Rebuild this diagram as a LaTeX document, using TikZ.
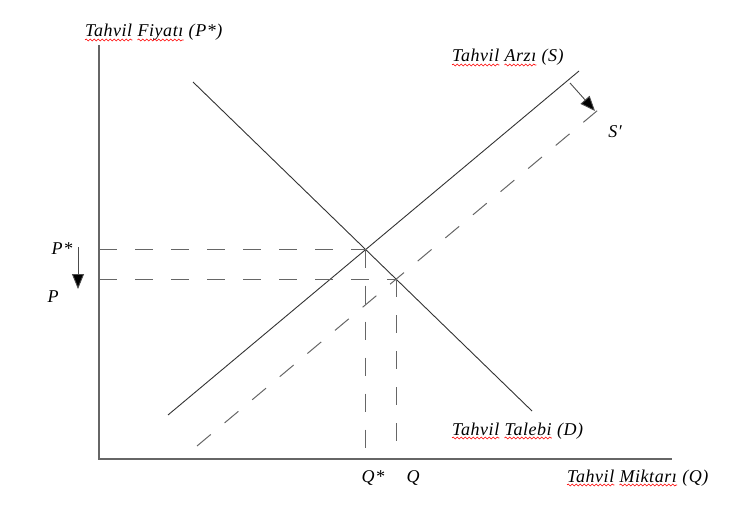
\documentclass[tikz,border=0pt]{standalone}
\usepackage{fontspec}
\setmainfont{Liberation Serif}[LetterSpace=3]
\usetikzlibrary{positioning, calc, intersections, arrows.meta, decorations.pathmorphing}

\begin{document}
\begin{tikzpicture}[
  x=1pt, y=-1pt,
  every node/.style={font=\fontsize{18}{21}\selectfont\itshape, inner sep=0pt},
  axis/.style={draw=black!60, line width=1.4pt},
  curve/.style={draw=black!80, line width=0.9pt},
  guide/.style={draw=black!60, line width=1pt, dash pattern=on 18pt off 18pt},
  shift arrow/.style={draw=black!70, line width=0.9pt,
    -{Triangle[length=15pt, width=12pt, fill=black]}}, % filled tip
  wave/.style={draw=red, line width=0.6pt, decorate,
    decoration={snake, amplitude=1pt, segment length=4pt}}, % spell-check
]
  \useasboundingbox (0,0) rectangle (752,505);

  % axes
  \coordinate (origin) at (99,459);
  \coordinate (ytop) at (99,45);
  \coordinate (xend) at (672,459);
  \draw[axis] (ytop) -- (origin) -- (xend);

  % supply, demand, shifted supply
  \coordinate (s-lo) at (168,415);
  \coordinate (s-hi) at (579,71);
  \coordinate (d-hi) at (193,82);
  \coordinate (d-lo) at (532,411);
  \coordinate (s2-lo) at (197,446);
  \coordinate (s2-hi) at (604,105);
  \draw[curve, name path=supply] (s-lo) -- (s-hi);
  \draw[curve, name path=demand] (d-hi) -- (d-lo);
  \draw[guide, name path=supply2] (s2-lo) -- (s2-hi);
  \path[name intersections={of=supply and demand, by=eq1}];
  \path[name intersections={of=supply2 and demand, by=eq2}];

  %% dashed guides to the axes
  \draw[guide] (eq1 -| origin) -- (eq1);
  \draw[guide] (eq2 -| origin) -- (eq2);
  \draw[guide] (eq1) -- (eq1 |- origin);
  \draw[guide] (eq2) -- (eq2 |- origin);

  % shift arrows
  \coordinate (sa-from) at (570,83);
  \coordinate (sa-to) at (595,111);
  \draw[shift arrow] (sa-from) -- (sa-to);
  \coordinate (pa-from) at (78,247);
  \coordinate (pa-to) at (78,289);
  \draw[shift arrow] (pa-from) -- (pa-to);

  % curve and axis titles, two underlined words each
  \foreach \nm/\pos/\wa/\wb/\tail in {
      ylab/{(85,37)}/Tahvil/Fiyatı/(P*),
      slab/{(452,62)}/Tahvil/Arzı/(S),
      dlab/{(452,435)}/Tahvil/Talebi/(D),
      xlab/{(567,482)}/Tahvil/Miktarı/(Q)} {
    \node[anchor=base west] (\nm-1) at \pos {\wa};
    \node[anchor=base west] (\nm-2) at ($(\nm-1.base east)+(5,0)$) {\wb};
    \node[anchor=base west] (\nm-3) at ($(\nm-2.base east)+(5,0)$) {\tail};
    \draw[wave] ($(\nm-1.base west)+(0,3)$) -- ($(\nm-1.base east)+(0,3)$);
    \draw[wave] ($(\nm-2.base west)+(0,3)$) -- ($(\nm-2.base east)+(0,3)$);
  }
  \node[anchor=base] (s2lab) at (615,138) {S′};
  %% axis values
  \node[anchor=base] (pstar) at (62,254) {P*};
  \node[anchor=base] (plab) at (53,302) {P};
  \node[anchor=base] (qstar) at (373,482) {Q*};
  \node[anchor=base] (qlab) at (413,482) {Q};
\end{tikzpicture}
\end{document}
